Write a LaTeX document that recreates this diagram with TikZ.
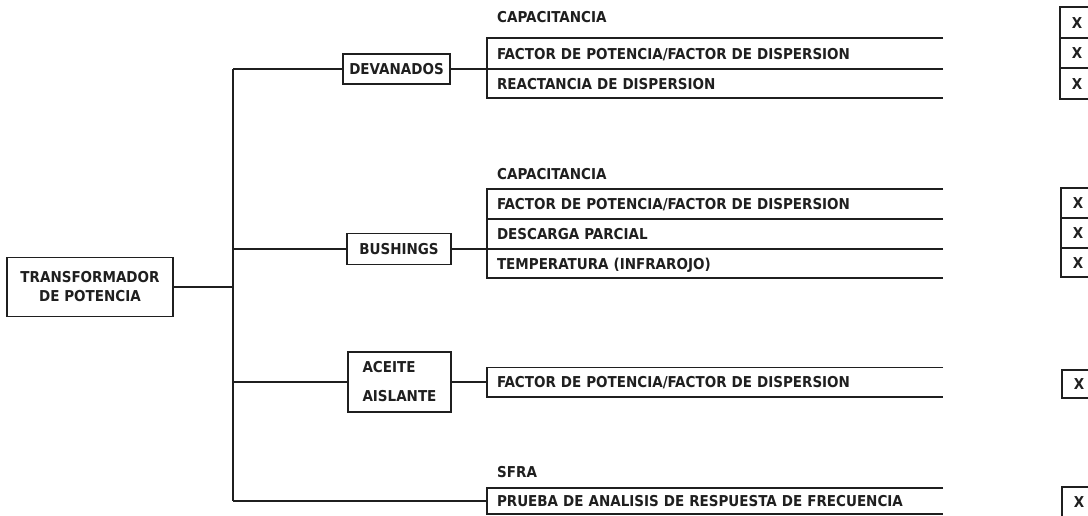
\documentclass[tikz,border=0pt]{standalone}
\usepackage{fontspec}
\newfontfamily\cadfont{DejaVu Sans Condensed}[BoldFont={DejaVu Sans Condensed Bold}]
\begin{document}
\begin{tikzpicture}[x=1pt,y=-1pt,
  ink/.style={draw=black!88, line width=1.6pt},
  txt/.style={font=\cadfont\bfseries\fontsize{15}{19}\selectfont, text=black!88},
  box/.style={ink, txt, rectangle, inner sep=0pt, text height=11pt, text depth=0pt},
  row/.style={txt, rectangle, inner xsep=10pt, inner ysep=0pt, text width=436pt,
              align=left, text height=11pt, text depth=0pt},
  lbl/.style={txt, anchor=west, inner sep=0pt, text height=11pt, text depth=0pt},
  xcell/.style={ink, txt, rectangle, minimum width=34pt, inner sep=0pt,
              text height=11pt, text depth=0pt},
  wire/.style={draw=black!88, line width=1.5pt}]
\useasboundingbox (0,0) rectangle (1088,515);

% main block
\node[box, align=center, minimum width=166pt, minimum height=59pt,
      text height=, text depth=] (root) at (90,287)
  {TRANSFORMADOR\\DE POTENCIA};

% trunk
\coordinate (ttop) at (233,69);
\coordinate (tbot) at (233,501);

% second level
\node[box, minimum width=107pt, minimum height=30pt] (dev) at (396.5,69) {DEVANADOS};
\node[box, minimum width=104pt, minimum height=31pt] (bus) at (399,249) {BUSHINGS};
\node[box, align=left, minimum width=103pt, minimum height=60pt,
      text height=, text depth=, font=\cadfont\bfseries\fontsize{15}{29}\selectfont]
  (ace) at (399.5,382) {ACEITE\\AISLANTE};

% test rows
\node[lbl] (dcap) at (497,17) {CAPACITANCIA};
\node[row, minimum height=31pt] (d1) at (715,53.5) {FACTOR DE POTENCIA/FACTOR DE DISPERSION};
\node[row, minimum height=29pt] (d2) at (715,83.5) {REACTANCIA DE DISPERSION};

\node[lbl] (bcap) at (497,174) {CAPACITANCIA};
\node[row, minimum height=30pt] (b1) at (715,204) {FACTOR DE POTENCIA/FACTOR DE DISPERSION};
\node[row, minimum height=30pt] (b2) at (715,234) {DESCARGA PARCIAL};
\node[row, minimum height=29pt] (b3) at (715,263.5) {TEMPERATURA (INFRAROJO)};

\node[row, minimum height=29pt] (a1) at (715,382) {FACTOR DE POTENCIA/FACTOR DE DISPERSION};

\node[lbl] (scap) at (497,472) {SFRA};
\node[row, minimum height=26pt] (s1) at (715,501) {PRUEBA DE ANALISIS DE RESPUESTA DE FRECUENCIA};

\foreach \n in {d1,d2,b1,b2,b3,a1,s1}
  \draw[ink] (\n.north east) -- (\n.north west) -- (\n.south west) -- (\n.south east);

% check marks column
\node[xcell, minimum height=31pt] (xd0) at (1077,22.5) {X};
\node[xcell, minimum height=30pt] (xd1) at (1077,53) {X};
\node[xcell, minimum height=31pt] (xd2) at (1077,83.5) {X};
\node[xcell, minimum height=30pt] (xb1) at (1078,203) {X};
\node[xcell, minimum height=30pt] (xb2) at (1078,233) {X};
\node[xcell, minimum height=29pt] (xb3) at (1078,262.5) {X};
\node[xcell, minimum height=28pt] (xa1) at (1079,384) {X};
\node[xcell, minimum height=30pt] (xs1) at (1079,502) {X};

% connectors
\draw[wire] (ttop) -- (tbot);
\draw[wire] (root.east) -- (root.east -| ttop);
\draw[wire] (ttop) -- (dev.west);
\draw[wire] (bus.west -| ttop) -- (bus.west);
\draw[wire] (ace.west -| ttop) -- (ace.west);
\draw[wire] (tbot) -- (tbot -| s1.west);
\draw[wire] (dev.east) -- (dev.east -| d1.west);
\draw[wire] (bus.east) -- (bus.east -| b3.west);
\draw[wire] (ace.east) -- (a1.west);
\end{tikzpicture}
\end{document}
